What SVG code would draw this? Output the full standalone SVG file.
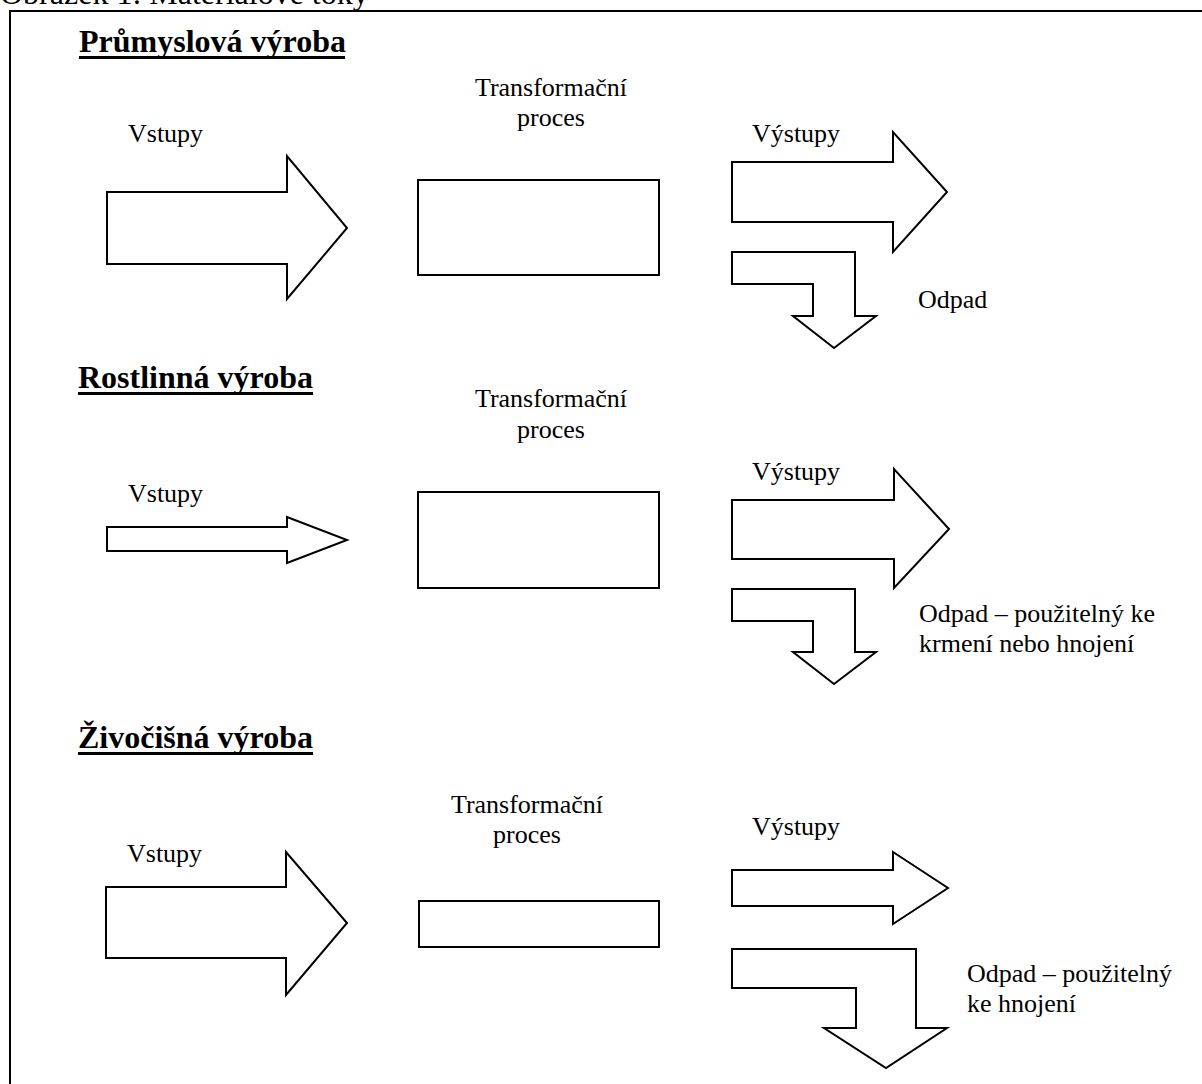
<svg xmlns="http://www.w3.org/2000/svg" width="1202" height="1084" viewBox="0 0 1202 1084">
<style>
.t{font-family:"Liberation Serif","Times New Roman",serif;font-size:26px;fill:#000}
.h{font-family:"Liberation Serif","Times New Roman",serif;font-size:32px;font-weight:bold;fill:#000}
.s{fill:#fff;stroke:#000;stroke-width:2;stroke-linejoin:miter}
.u{fill:#000}
</style>
<rect width="1202" height="1084" fill="#fff"/>
<text class="t" x="0" y="4" style="font-size:32px">Obrázek 1: Materiálové toky</text>
<rect x="10" y="11" width="1200" height="1100" fill="none" stroke="#000" stroke-width="2"/>

<g id="section1">
<g id="h1"><text class="h" x="79" y="52">Průmyslová výroba</text><rect class="u" x="79" y="56" width="266" height="3"/></g>
<g id="in1"><text class="t" x="128" y="142">Vstupy</text></g>
<g id="proc1"><text class="t" x="551" y="96" text-anchor="middle">Transformační</text><text class="t" x="551" y="126" text-anchor="middle">proces</text><rect class="s" x="418" y="180" width="241" height="95"/></g>
<g id="out1"><text class="t" x="752" y="142">Výstupy</text></g>
<g id="waste1"><text class="t" x="918" y="308">Odpad</text></g>
</g>

<g id="section2">
<g id="h2"><text class="h" x="78" y="388">Rostlinná výroba</text><rect class="u" x="78" y="392" width="235" height="3"/></g>
<g id="in2"><text class="t" x="128" y="502">Vstupy</text></g>
<g id="proc2"><text class="t" x="551" y="407" text-anchor="middle">Transformační</text><text class="t" x="551" y="438" text-anchor="middle">proces</text><rect class="s" x="418" y="492" width="241" height="96"/></g>
<g id="out2"><text class="t" x="752" y="480">Výstupy</text></g>
<g id="waste2"><text class="t" x="919" y="622">Odpad – použitelný ke</text><text class="t" x="919" y="652">krmení nebo hnojení</text></g>
</g>

<g id="section3">
<g id="h3"><text class="h" x="78" y="748">Živočišná výroba</text><rect class="u" x="78" y="752" width="235" height="3"/></g>
<g id="in3"><text class="t" x="127" y="862">Vstupy</text></g>
<g id="proc3"><text class="t" x="527" y="813" text-anchor="middle">Transformační</text><text class="t" x="527" y="843" text-anchor="middle">proces</text><rect class="s" x="419" y="901" width="240" height="46"/></g>
<g id="out3"><text class="t" x="752" y="835">Výstupy</text></g>
<g id="waste3"><text class="t" x="967" y="982">Odpad – použitelný</text><text class="t" x="967" y="1012">ke hnojení</text></g>
</g>

<g id="connectors">
<polygon class="s" points="107,192 287,192 287,156 347,228 287,299 287,264 107,264"/>
<polygon class="s" points="732,162 893,162 893,132 947,192 893,252 893,222 732,222"/>
<polygon class="s" points="732,252 855,252 855,316 876,316 834,348 793,316 813,316 813,284 732,284"/>

<polygon class="s" points="107,527 287,527 287,517 347,540 287,563 287,551 107,551"/>
<polygon class="s" points="732,500 894,500 894,469 949,529 894,588 894,559 732,559"/>
<polygon class="s" points="732,589 855,589 855,652 876,652 834,684 793,652 813,652 813,621 732,621"/>

<polygon class="s" points="106,887 286,887 286,852 347,923 286,995 286,958 106,958"/>
<polygon class="s" points="732,870 893,870 893,852 948,888 893,924 893,906 732,906"/>
<polygon class="s" points="732,949 916,949 916,1028 947,1028 886,1068 824,1028 856,1028 856,988 732,988"/>
</g>
</svg>
